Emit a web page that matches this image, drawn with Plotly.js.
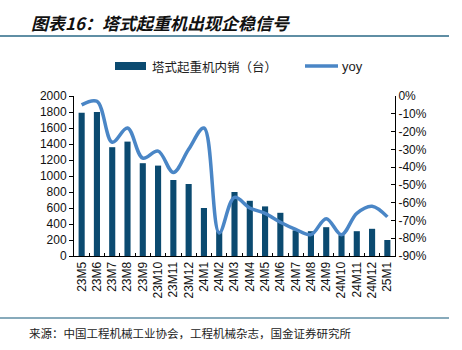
<!DOCTYPE html>
<html>
<head>
<meta charset="utf-8">
<script src="https://cdn.plot.ly/plotly-3.0.1.min.js"></script>
<style>html,body{margin:0;padding:0;background:#fff;}#chart{width:462px;height:350px;}</style>
</head>
<body>
<div id="chart"></div>
<script>
const months = ["23M5","23M6","23M7","23M8","23M9","23M10","23M11","23M12","24M1","24M2","24M3","24M4","24M5","24M6","24M7","24M8","24M9","24M10","24M11","24M12","25M1"];
const sales = [1790,1800,1360,1430,1160,1130,950,900,600,310,800,690,620,540,320,310,360,260,310,340,200];
const yoy = [-5,-3,-26,-18,-35,-31,-43,-30,-18,-77,-57,-63,-66,-71,-75,-78,-69,-78,-66,-62,-68];
const yoyTicks = [0,-10,-20,-30,-40,-50,-60,-70,-80,-90];
const salesTicks = [0,200,400,600,800,1000,1200,1400,1600,1800,2000];
const seriesNames = ['塔式起重机内销（台）','yoy'];

const L = 74, R = 395, T = 96, B = 256, W = 462, H = 350;
const px = x => (x - L) / (R - L);
const py = y => (B - y) / (B - T);
const barColor = '#0b4a70', lineColor = '#4a86c6';

const traces = [
  {type:'bar', x: months, y: sales, name:seriesNames[0], marker:{color:barColor}, width:0.4, yaxis:'y'},
  {type:'scatter', mode:'lines', x: months, y: yoy, name:seriesNames[1], yaxis:'y2',
   line:{color:lineColor, width:3.5, shape:'spline', smoothing:1}}
];

const tickFont = {family:'Liberation Sans, Arial', size:12, color:'#111'};
const layout = {
  width: W, height: H,
  margin:{l:L, r:W-R, t:T, b:H-B, pad:0},
  paper_bgcolor:'#fff', plot_bgcolor:'#fff',
  showlegend:false,
  xaxis:{type:'category', tickson:'boundaries', ticks:'inside', ticklen:3, tickcolor:'#000',
         showline:true, linecolor:'#000', linewidth:1, tickangle:-90,
         tickfont:tickFont, showgrid:false, zeroline:false},
  yaxis:{range:[0,2000], tickvals:salesTicks, ticktext:salesTicks.map(String), ticks:'outside', ticklen:4, tickcolor:'#000',
         showline:true, linecolor:'#000', linewidth:1, showgrid:false, zeroline:false, tickfont:tickFont},
  yaxis2:{range:[-90,0], overlaying:'y', side:'right', tickvals:yoyTicks, ticktext:yoyTicks.map(v=>v+'%'),
          ticks:'inside', ticklen:4, tickcolor:'#000', showline:true, linecolor:'#000', linewidth:1,
          showgrid:false, zeroline:false, tickfont:tickFont},
  shapes:[
    {type:'line', xref:'paper', yref:'paper', x0:px(0), x1:px(449), y0:py(36), y1:py(36), line:{color:'#5f8ea4', width:2}},
    {type:'line', xref:'paper', yref:'paper', x0:px(0), x1:px(449), y0:py(318), y1:py(318), line:{color:'#5f8ea4', width:1.5}},
    {type:'rect', xref:'paper', yref:'paper', x0:px(115), x1:px(146), y0:py(62), y1:py(70), fillcolor:barColor, line:{width:0}},
    {type:'line', xref:'paper', yref:'paper', x0:px(305), x1:px(338), y0:py(66), y1:py(66), line:{color:lineColor, width:3.5}}
  ],
  annotations:[
    {xref:'paper', yref:'paper', x:px(29), y:py(22), xanchor:'left', yanchor:'middle', showarrow:false,
     text:'图表16：塔式起重机出现企稳信号',
     font:{family:'Noto Sans CJK SC', size:17, weight:700, style:'italic', color:'#111'}},
    {xref:'paper', yref:'paper', x:px(150), y:py(66), xanchor:'left', yanchor:'middle', showarrow:false,
     text:seriesNames[0], font:{family:'Noto Sans CJK SC', size:12.5, color:'#222'}},
    {xref:'paper', yref:'paper', x:px(340), y:py(66), xanchor:'left', yanchor:'middle', showarrow:false,
     text:seriesNames[1], font:{family:'Liberation Sans, Arial', size:13, color:'#222'}},
    {xref:'paper', yref:'paper', x:px(27), y:py(333), xanchor:'left', yanchor:'middle', showarrow:false,
     text:'来源：中国工程机械工业协会，工程机械杂志，国金证券研究所',
     font:{family:'Noto Sans CJK SC', size:11.5, color:'#222'}}
  ]
};

Plotly.newPlot('chart', traces, layout, {staticPlot:true, displayModeBar:false});
</script>
</body>
</html>
